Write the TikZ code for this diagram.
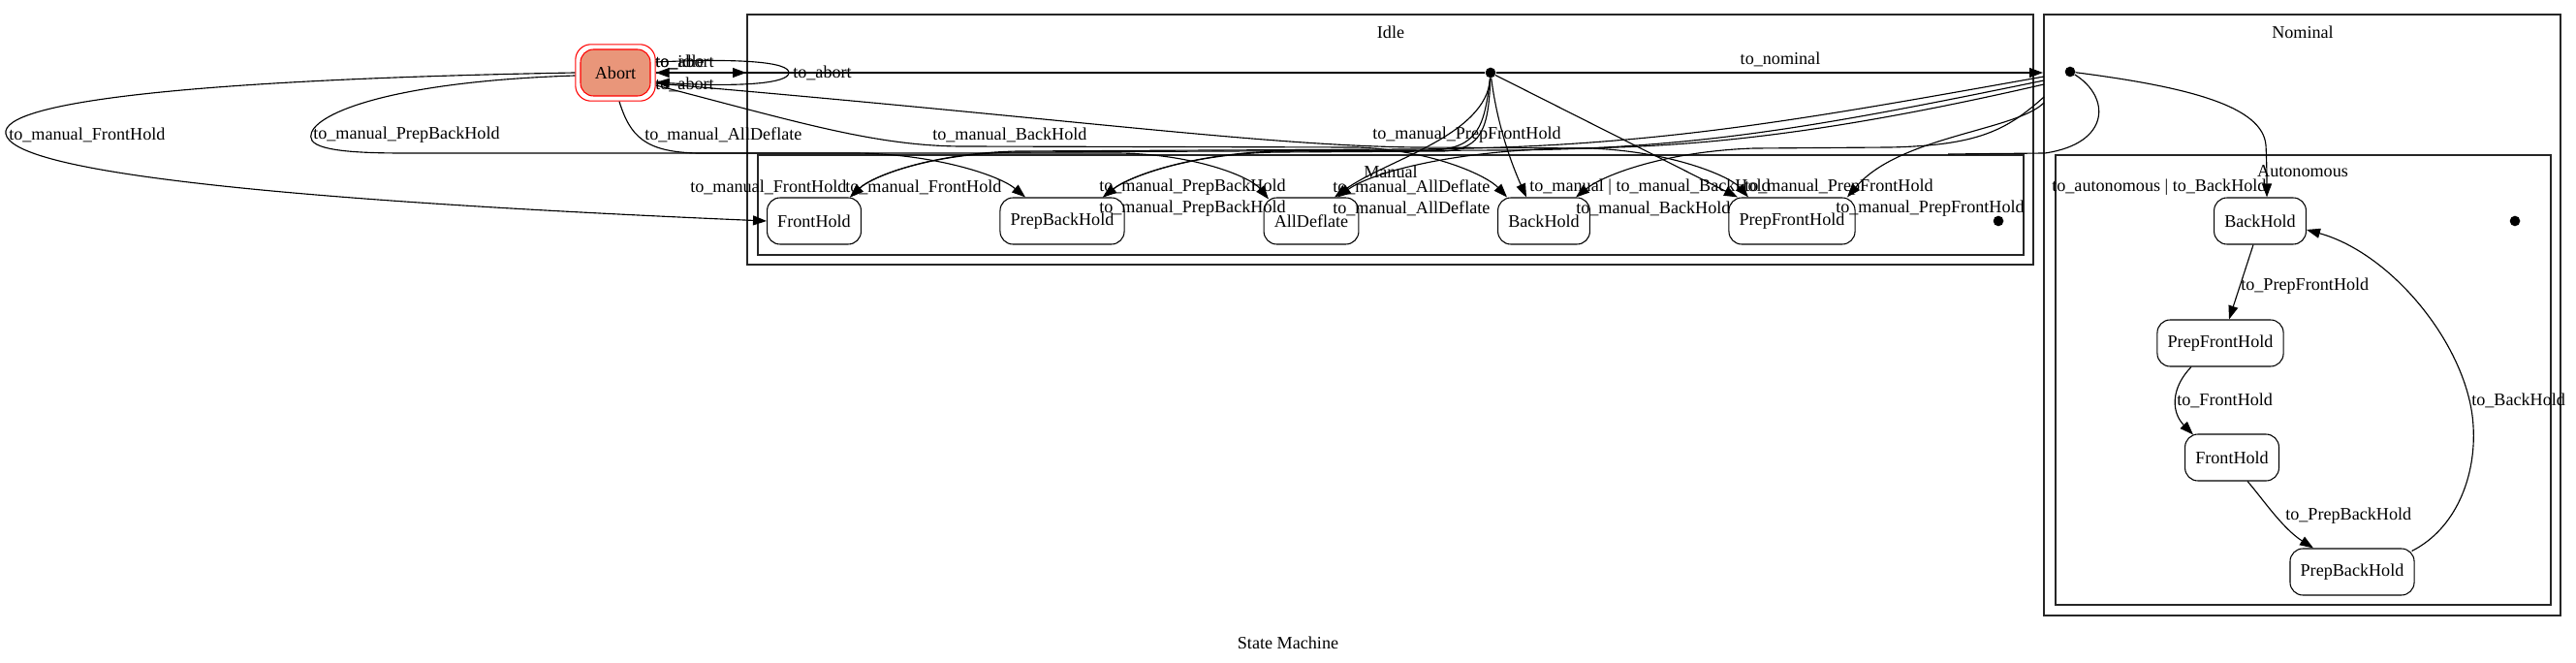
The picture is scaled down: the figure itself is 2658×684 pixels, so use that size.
\documentclass[tikz,border=0pt]{standalone}
\usepackage{fontspec}
\setmainfont{Liberation Serif}
\usetikzlibrary{arrows.meta,calc,fit}
\definecolor{salmonfill}{HTML}{E9967A}
\begin{document}
\begin{tikzpicture}[x=0.75pt,y=-0.75pt,
  every node/.style={font=\fontsize{13.6pt}{16pt}\selectfont},
  state/.style={draw, rounded corners=10pt, minimum height=36pt, inner xsep=8pt, inner ysep=0pt, line width=0.8pt},
  dotnode/.style={circle, fill=black, inner sep=0pt, minimum size=8pt},
  cluster/.style={draw=black!85, line width=1pt},
  trans/.style={draw, line width=0.85pt, -{Triangle[length=10.5pt,width=7.5pt]}},
  plainline/.style={draw, line width=0.85pt},
  elabel/.style={anchor=west, inner sep=0pt},
  clabel/.style={inner sep=0pt}]
\fill[white] (0,0) rectangle (2658,684);
\useasboundingbox (0,0) rectangle (2658,684);

% clusters
\draw[cluster] (771,15) rectangle (2098,273);
\draw[cluster] (782,160) rectangle (2088,263);
\draw[cluster] (2109,15) rectangle (2642,635);
\draw[cluster] (2121,160) rectangle (2632,624);
\node[clabel] (tIdle) at (1435,33) {Idle};
\node[clabel] (tManual) at (1435,177) {Manual};
\node[clabel] (tNominal) at (2376,33) {Nominal};
\node[clabel] (tAuto) at (2376,177) {Autonomous};
\node[clabel] (tSM) at (1329,663) {State Machine};

% nodes
\node[state, fill=salmonfill, draw=red, minimum width=54pt] (abort) at (635,75) {Abort};
\node[draw=red, rounded corners=12pt, fit=(abort), inner sep=3.5pt, line width=0.8pt] (abortO) {};
\node[state] (mFH) at (840,228) {FrontHold};
\node[state] (mPBH) at (1096,228) {PrepBackHold};
\node[state] (mAD) at (1353,228) {AllDeflate};
\node[state] (mBH) at (1593,228) {BackHold};
\node[state] (mPFH) at (1849,228) {PrepFrontHold};
\node[state] (aBH) at (2332,228) {BackHold};
\node[state] (aPFH) at (2291,354) {PrepFrontHold};
\node[state] (aFH) at (2303,472) {FrontHold};
\node[state] (aPBH) at (2427,590) {PrepBackHold};
\node[dotnode] (idot) at (1538,75) {};
\node[dotnode] (mdot) at (2062,228) {};
\node[dotnode] (ndot) at (2136,74) {};
\node[dotnode] (adot) at (2595,228) {};

\coordinate (idleW) at (770,75);
\coordinate (nomW) at (2108,75);
\coordinate (n1) at (2109,79);
\coordinate (n2) at (2109,83);
\coordinate (n3) at (2109,87);
\coordinate (n4) at (2109,100);
\coordinate (n5) at (2109,106);
\coordinate (mTop) at (2010,159);

% Abort top edges
\draw[trans] (abortO.east) -- (idleW);
\draw[trans] (idot) -- (abortO.east);
\draw[trans] (idot) -- (nomW);
\draw[trans] ($(abortO.east)+(0,-11)$) .. controls (765,60) and (814,64) .. (814,75) .. controls (814,86) and (765,90) .. ($(abortO.east)+(0,10)$);

% Abort -> manual
\draw[trans] (abortO.west) .. controls (200,82) and (0,105) .. (6,138) .. controls (12,175) and (250,205) .. (mFH.west);
\draw[trans] ($(abortO.west)+(0,3)$) .. controls (380,85) and (310,125) .. (322,145) .. controls (330,157) and (380,158) .. (420,158) -- (880,158) .. controls (960,158) and (1030,180) .. ($(mPBH.north)+(-38,0)$);
\draw[trans] ($(abortO.south)+(4,0)$) .. controls (650,140) and (665,157) .. (720,158) -- (1150,158) .. controls (1230,158) and (1290,182) .. ($(mAD.north)+(-44,2)$);
\draw[trans] ($(abortO.east)+(0,13)$) .. controls (820,125) and (900,150) .. (990,151) -- (1400,152) .. controls (1480,155) and (1535,182) .. ($(mBH.north)+(-38,0)$);
\draw[trans] ($(abortO.east)+(0,11)$) .. controls (1100,122) and (1300,150) .. (1460,152) -- (1640,153) .. controls (1725,156) and (1785,182) .. ($(mPFH.north)+(-45,0)$);

% Idle dot -> manual
\draw[trans] (idot) .. controls (1532,130) and (1525,152) .. (1480,155) -- (1050,157) .. controls (960,158) and (900,182) .. ($(mFH.north)+(37,0)$);
\draw[trans] (idot) .. controls (1536,130) and (1530,154) .. (1490,156) -- (1320,157) .. controls (1230,158) and (1165,182) .. ($(mPBH.north)+(42,0)$);
\draw[trans] (idot) .. controls (1534,140) and (1430,165) .. ($(mAD.north)+(24,0)$);
\draw[trans] (idot) .. controls (1545,130) and (1560,170) .. ($(mBH.north)+(-18,0)$);
\draw[trans] (idot) -- ($(mPFH.north)+(-56,0)$);

% Nominal -> manual
\draw[trans] (n1) .. controls (1850,125) and (1700,153) .. (1450,154) -- (1050,156) .. controls (960,158) and (900,182) .. ($(mFH.north)+(37,0)$);
\draw[trans] (n2) .. controls (1880,130) and (1750,154) .. (1550,155) -- (1320,156) .. controls (1230,158) and (1165,182) .. ($(mPBH.north)+(42,0)$);
\draw[trans] (n3) .. controls (1900,135) and (1760,152) .. (1620,153) .. controls (1500,155) and (1415,178) .. ($(mAD.north)+(27,0)$);
\draw[trans] (n4) .. controls (2070,135) and (2040,150) .. (1950,152) -- (1810,153) .. controls (1720,156) and (1655,180) .. ($(mBH.north)+(33,0)$);
\draw[trans] (n5) .. controls (2080,135) and (1960,140) .. ($(mPFH.north)+(57,0)$);
\draw[plainline] (ndot) .. controls (2178,100) and (2178,148) .. (2110,158) -- (mTop);

% Nominal / Autonomous
\draw[trans] (ndot) .. controls (2260,90) and (2335,110) .. (2338,150) .. controls (2339,170) and (2339,190) .. ($(aBH.north)+(7,0)$);
\draw[trans] ($(aBH.south)+(-7,0)$) -- ($(aPFH.north)+(9,0)$);
\draw[trans] ($(aPFH.south)+(-30,0)$) .. controls (2240,400) and (2240,425) .. ($(aFH.north)+(-40,1)$);
\draw[trans] ($(aFH.south)+(16,0)$) .. controls (2335,515) and (2355,545) .. ($(aPBH.north)+(-40,0)$);
\draw[trans] ($(aPBH.north east)+(-3,3)$) .. controls (2535,545) and (2555,490) .. (2552,440) .. controls (2548,360) and (2470,262) .. ($(aBH.east)+(0,9)$);

% labels
\node[elabel] (l1) at (676,64) {to\_idle};
\node[elabel] (l2) at (676,64) {to\_abort};
\node[elabel] (l3) at (818,75) {to\_abort};
\node[elabel] (l4) at (676,87) {to\_abort};
\node[clabel] (l5) at (1837,61) {to\_nominal};
\node[elabel] (l6) at (9,139) {to\_manual\_FrontHold};
\node[elabel] (l7) at (323,139) {to\_manual\_PrepBackHold};
\node[elabel] (l8) at (665,139) {to\_manual\_AllDeflate};
\node[elabel] (l9) at (962,139) {to\_manual\_BackHold};
\node[elabel] (l10) at (1416,139) {to\_manual\_PrepFrontHold};
\node[elabel] (l11) at (712,193) {to\_manual\_FrontHold};
\node[elabel] (l12) at (872,193) {to\_manual\_FrontHold};
\node[elabel] (l13) at (1134,193) {to\_manual\_PrepBackHold};
\node[elabel] (l14) at (1134,215) {to\_manual\_PrepBackHold};
\node[elabel] (l15) at (1375,193) {to\_manual\_AllDeflate};
\node[elabel] (l16) at (1375,215) {to\_manual\_AllDeflate};
\node[elabel] (l17) at (1578,193) {to\_manual | to\_manual\_BackHold};
\node[elabel] (l18) at (1626,215) {to\_manual\_BackHold};
\node[elabel] (l19) at (1800,193) {to\_manual\_PrepFrontHold};
\node[elabel] (l20) at (1894,215) {to\_manual\_PrepFrontHold};
\node[elabel] (l21) at (2117,193) {to\_autonomous | to\_BackHold};
\node[elabel] (l22) at (2312,295) {to\_PrepFrontHold};
\node[elabel] (l23) at (2246,413) {to\_FrontHold};
\node[elabel] (l24) at (2358,532) {to\_PrepBackHold};
\node[elabel] (l25) at (2550,413) {to\_BackHold};
\end{tikzpicture}
\end{document}
